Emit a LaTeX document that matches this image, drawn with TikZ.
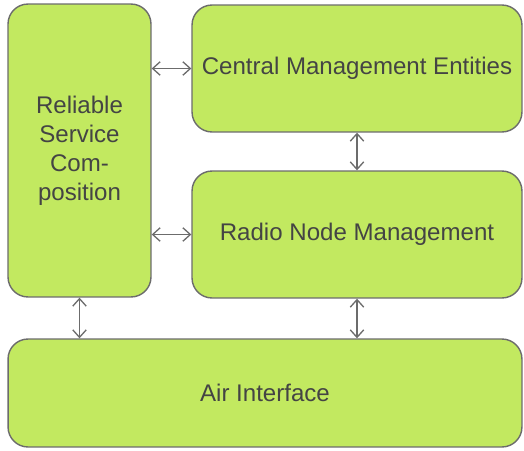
\documentclass[tikz,border=0pt]{standalone}
\usepackage{fontspec}
\setmainfont{Liberation Sans}
\usetikzlibrary{arrows.meta}
\definecolor{boxgreen}{RGB}{194,233,96}
\definecolor{boxline}{RGB}{108,108,108}
\definecolor{txtgray}{RGB}{68,68,68}
\tikzset{
	block/.style={draw=boxline, line width=0.8pt, fill=boxgreen, rounded corners=0.4cm,
		text=txtgray, align=center, inner sep=0pt, font=\fontsize{13.7}{16.5}\selectfont},
	link/.style={draw=boxline, line width=0.75pt,
		{Straight Barb[length=1.5mm,width=2.7mm]}-{Straight Barb[length=1.5mm,width=2.7mm]}}
}

\begin{document}
\begin{tikzpicture}[x=0.02cm, y=-0.02cm]
	\useasboundingbox (0,0) rectangle (524,450);
	\node[block, minimum width=2.86cm, minimum height=5.86cm] (rsc) at (79.5,150.5) {Reliable\\Service\\Com-\\position};
	\node[block, minimum width=6.6cm, minimum height=2.54cm] (cme) at (357,68.5) {Central Management Entities};
	\node[block, minimum width=6.6cm, minimum height=2.54cm] (rnm) at (357,234.5) {Radio Node Management};
	\node[block, minimum width=10.28cm, minimum height=2.16cm] (air) at (265,393) {Air Interface};
	% connections between the blocks
	\draw[link] (rsc.east |- cme) -- (cme.west);
	\draw[link] (rsc.east |- rnm) -- (rnm.west);
	\draw[link] (cme.south) -- (rnm.north);
	\draw[link] (rnm.south) -- (rnm.south |- air.north);
	\draw[link] (rsc.south) -- (rsc.south |- air.north);
\end{tikzpicture}
\end{document}
